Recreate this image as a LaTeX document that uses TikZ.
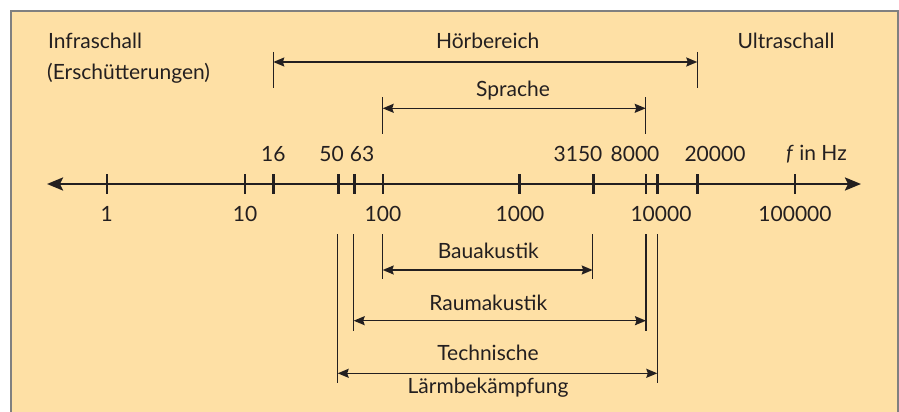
\documentclass[tikz,border=0pt]{standalone}
\usepackage{fontspec}
\setmainfont{Lato}
\usetikzlibrary{arrows.meta}
\definecolor{paper}{RGB}{254,224,165}
\definecolor{frame}{RGB}{128,128,128}
\definecolor{ink}{RGB}{35,31,32}

\begin{document}
\begin{tikzpicture}[x=1pt,y=-1pt,
    every node/.style={font=\fontsize{21}{25}\selectfont, text=ink, inner sep=0pt},
    tick/.style={draw=ink, line width=2.4pt},
    bar/.style={draw=ink, line width=1.5pt},
    band/.style={draw=ink, line width=1.5pt,
      {Stealth[length=11pt,width=9pt,inset=1.5pt]}-{Stealth[length=11pt,width=9pt,inset=1.5pt]}}]
            % Background panel
            \useasboundingbox (0,0) rectangle (899,412);
            \fill[paper] (11,11) rectangle (898,430);
            \draw[frame, line width=1.5pt] (11,430) -- (11,11) -- (898,11) -- (898,430);
            % Frequency axis with ticks
            \draw[tick, {Stealth[length=16pt,width=13pt,inset=3pt]}-{Stealth[length=16pt,width=13pt,inset=3pt]}]
                (47,184) -- (861,184);
            \foreach \x in {106.7,245,273.3,338.3,354.3,382.7,519.3,593.3,645.7,657.3,697.3,795}
                \draw[tick] (\x,174) -- (\x,194);
            % Labels above the axis
            \node (l16) at (273.3,154) {16};
            \node (l50) at (331.5,154) {50};
            \node (l63) at (362,154) {63};
            \node (l3150) at (578,154) {3150};
            \node (l8000) at (635,154) {8000};
            \node (l20000) at (715,154) {20000};
            \node (unit) at (816.5,154) {\textit{f} in Hz};
            % Decades below the axis
            \node (d1) at (106.7,214) {1};
            \node (d10) at (245,214) {10};
            \node (d100) at (383,214) {100};
            \node (d1000) at (520,214) {1000};
            \node (d10000) at (661,214) {10000};
            \node (d100000) at (795,214) {100000};
            % Ranges above the axis
            \node[anchor=base west] (infra) at (48,48.3) {Infraschall};
            \node[anchor=base west] (ersch) at (47,80) {(Erschütterungen)};
            \node[anchor=base] (ultra) at (786,48.3) {Ultraschall};
            \node[anchor=base] (hoer) at (487.7,48.3) {Hörbereich};
            \node[anchor=base] (sprache) at (513,96) {Sprache};
            \coordinate (hoerL) at (273.3,62);
            \coordinate (hoerR) at (697.3,62);
            \coordinate (sprL) at (382.7,108.3);
            \coordinate (sprR) at (645.7,108.3);
            \draw[bar] (273.3,52) -- (273.3,88.3);
            \draw[bar] (697.3,52) -- (697.3,88.3);
            \draw[bar] (382.7,97.3) -- (382.7,134.3);
            \draw[bar] (645.7,97.3) -- (645.7,134.3);
            \draw[band] (hoerL) -- (hoerR);
            \draw[band] (sprL) -- (sprR);
            % Ranges below the axis
            \node[anchor=base] (bau) at (488.3,258.3) {Bauakustik};
            \node[anchor=base] (raum) at (488.3,310) {Raumakustik};
            \node[anchor=base] (tech) at (488,360.7) {Technische};
            \node[anchor=base] (laerm) at (488,393.3) {Lärmbekämpfung};
            \coordinate (bauL) at (382.7,270);
            \coordinate (bauR) at (592.7,270);
            \coordinate (raumL) at (353.7,320.7);
            \coordinate (raumR) at (646,320.7);
            \coordinate (techL) at (337.7,373.3);
            \coordinate (techR) at (657.3,373.3);
            \draw[bar] (382.7,234) -- (382.7,279.3);
            \draw[bar] (592.7,234) -- (592.7,279.3);
            \draw[bar] (353.7,234) -- (353.7,331);
            \draw[bar] (646,234) -- (646,331);
            \draw[bar] (337.7,234) -- (337.7,382.7);
            \draw[bar] (657.3,234) -- (657.3,382.7);
            \draw[band] (bauL) -- (bauR);
            \draw[band] (raumL) -- (raumR);
            \draw[band] (techL) -- (techR);
        \end{tikzpicture}
\end{document}
